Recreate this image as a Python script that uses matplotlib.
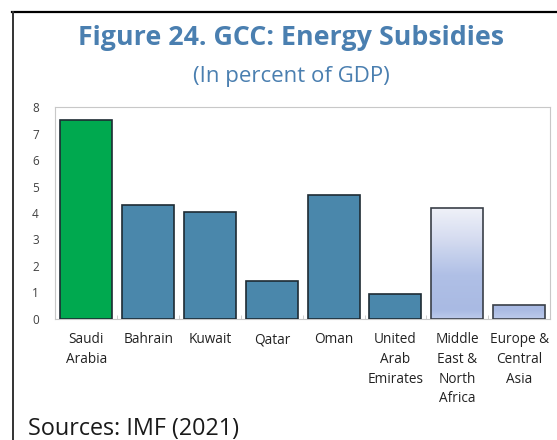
import matplotlib.pyplot as plt
from matplotlib.lines import Line2D
import numpy as np
from matplotlib.colors import LinearSegmentedColormap

categories = ["Saudi\nArabia", "Bahrain", "Kuwait", "Qatar", "Oman",
              "United\nArab\nEmirates", "Middle\nEast &\nNorth\nAfrica",
              "Europe &\nCentral\nAsia"]
subsidies = [7.52, 4.31, 4.04, 1.42, 4.68, 0.93, 4.19, 0.50]
bar_kind = ["saudi", "gcc", "gcc", "gcc", "gcc", "gcc", "region", "region"]

plt.rcParams["font.family"] = ["Open Sans", "DejaVu Sans"]

fig = plt.figure(figsize=(5.57, 4.40), dpi=100)
ax = fig.add_axes([0.0996, 0.276, 0.8878, 0.4797])

colors = {"saudi": "#00A94F", "gcc": "#4A87AB", "region": "none"}
x = np.arange(len(categories))
bars = ax.bar(x, subsidies, width=0.84,
              color=[colors[k] for k in bar_kind],
              edgecolor="#1e2b33", linewidth=1.2, zorder=3)

# gradient fill for the regional bars
grad = LinearSegmentedColormap.from_list(
    "reg", [(0.0, "#bccaeb"), (0.08, "#a9bae3"), (0.4, "#b0c0e6"),
            (0.75, "#d8def1"), (1.0, "#eff1f8")])
top = max(v for v, k in zip(subsidies, bar_kind) if k == "region")
img = np.linspace(0, 1, 256).reshape(-1, 1)
for b, k in zip(bars, bar_kind):
    if k != "region":
        continue
    b.set_edgecolor("#3a3f48")
    im = ax.imshow(img, cmap=grad, origin="lower", aspect="auto",
                   extent=(b.get_x(), b.get_x() + b.get_width(), 0, top),
                   zorder=2)
    im.set_clip_path(b)

ax.set_xlim(-0.5, len(categories) - 0.5)
ax.set_ylim(0, 8)
ax.set_yticks(range(0, 9))
ax.tick_params(axis="y", length=0, labelsize=8.5, labelcolor="#404040", pad=12)
ax.set_xticks(x)
ax.set_xticklabels(categories, fontsize=9.8, color="#222222", linespacing=1.42)
ax.tick_params(axis="x", length=0, pad=10)
ax.set_xticks(np.arange(-0.5, len(categories)), minor=True)
ax.tick_params(axis="x", which="minor", length=3, direction="in", color="#c8c8c8")
for s in ax.spines.values():
    s.set_color("#c8c8c8")
    s.set_linewidth(0.8)

# page border
fig.add_artist(Line2D([12 / 557, 1], [1 - 12 / 440] * 2, color="black", lw=1.6))
fig.add_artist(Line2D([13 / 557] * 2, [0, 1 - 12 / 440], color="#333333", lw=1.4))

fig.text(0.523, 0.898, "Figure 24. GCC: Energy Subsidies", ha="center",
         va="baseline", fontsize=19.3, fontweight="bold", color="#4A7FB0")
fig.text(0.524, 0.8136, "(In percent of GDP)", ha="center", va="baseline",
         fontsize=16, color="#4A7FB0")
fig.text(28 / 557, 1 - 435 / 440, "Sources: IMF (2021)", ha="left",
         va="baseline", fontsize=16.8, color="#1a1a1a")

fig.savefig("out.png", dpi=100)
